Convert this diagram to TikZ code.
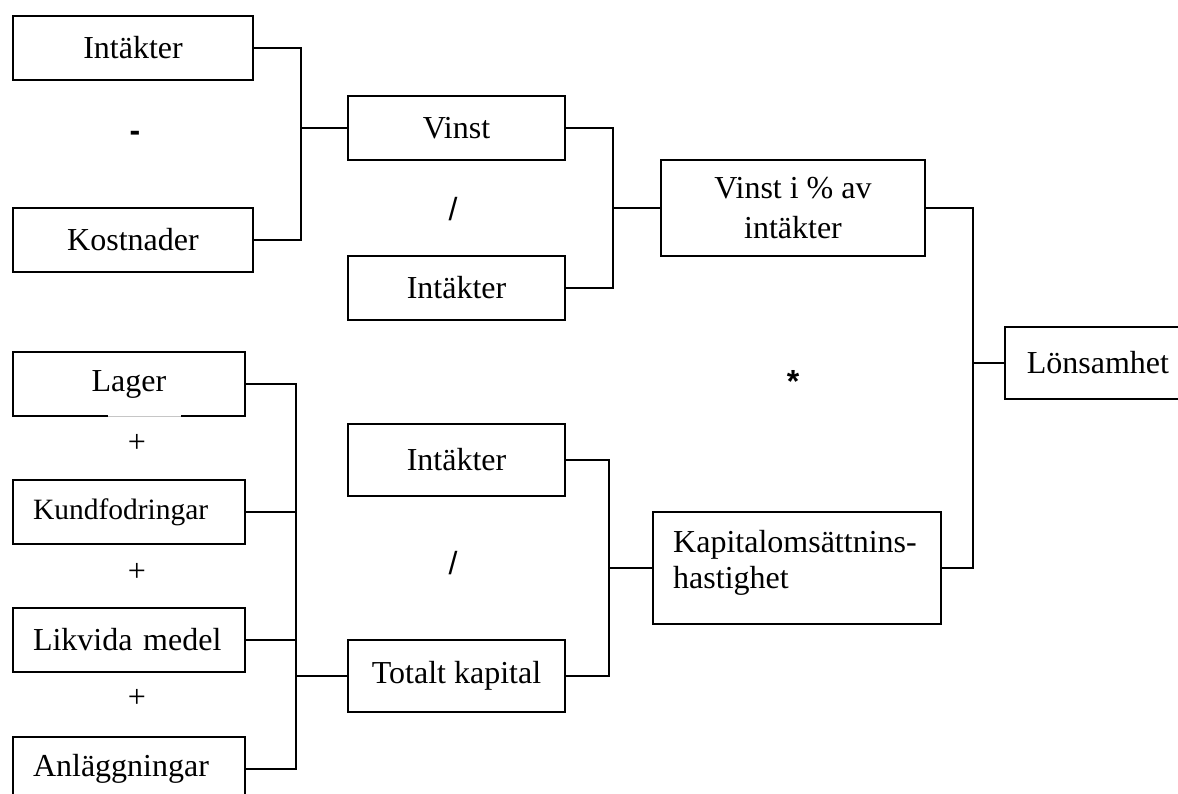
\documentclass[tikz,border=0pt]{standalone}
\usepackage{fontspec}
\setmainfont{Liberation Serif}
\newfontfamily\opfont{Liberation Sans}
\begin{document}
\begin{tikzpicture}[x=1pt,y=-1pt,
  box/.style={draw, line width=1.6pt, inner sep=0pt, minimum height=64pt,
    font=\fontsize{32}{40}\selectfont, align=center},
  lbox/.style={box, inner xsep=20pt, text width=192pt, align=left},
  conn/.style={line width=1.6pt, line join=miter},
  op/.style={inner sep=0pt, font=\fontsize{32}{36}\selectfont},
  sop/.style={inner sep=0pt, font={\opfont\fontsize{32}{36}\selectfont}}]
\clip (0,0) rectangle (1178,794);
\fill[white] (0,0) rectangle (1178,794);

% top left
\node[box, minimum width=240pt] (i1) at (133,48) {Intäkter};
\node[box, minimum width=240pt, minimum height=64pt] (k) at (133,240) {Kostnader};
\node[box, minimum width=217pt] (vinst) at (456.5,128) {Vinst};
\node[box, minimum width=217pt] (i2) at (456.5,288) {Intäkter};
\node[box, minimum width=264pt, minimum height=96pt] (vpct) at (793,208) {Vinst i \% av\\intäkter};
\node[box, anchor=west, inner xsep=22pt, text width=156pt, align=left, minimum height=72pt] (lons) at (1004,363) {Lönsamhet};

% bottom left
\node[box, minimum width=232pt] (lager) at (129,384) {Lager};
\node[lbox, font=\fontsize{29.5}{36}\selectfont] (kund) at (129,512) {Kundfodringar};
\node[lbox] (likv) at (129,640) {Likvida medel};
\node[lbox] (anl) at (129,769) {Anläggningar};
\node[box, minimum width=217pt, minimum height=72pt] (i3) at (456.5,460) {Intäkter};
\node[box, minimum width=217pt, minimum height=72pt] (tot) at (456.5,676) {Totalt kapital};
\node[box, minimum width=288pt, minimum height=112pt] (kap) at (797,568) {};
\node[anchor=north west, inner sep=0pt, align=left, font=\fontsize{32}{36}\selectfont] (kapt) at (673,530) {Kapitalomsättnins-\\hastighet};

% artifact on Lager bottom edge
\draw[white, line width=1.8pt] (108,416) -- (181,416);
\draw[gray!45, line width=0.5pt] (108,416) -- (181,416);

% junctions
\coordinate (j1) at (301,128);
\coordinate (j2) at (613,208);
\coordinate (j3) at (973,363);
\coordinate (j4) at (296,676);
\coordinate (j5) at (609,568);

\draw[conn] (i1.east) -| (j1) |- (k.east);
\draw[conn] (j1) -- (vinst.west);
\draw[conn] (vinst.east) -| (j2) |- (i2.east);
\draw[conn] (j2) -- (vpct.west);
\draw[conn] (vpct.east) -| (j3) |- (kap.east);
\draw[conn] (j3) -- (lons.west);
\draw[conn] (lager.east) -| (j4) |- (anl.east);
\draw[conn] (kund.east) -- (kund.east -| j4);
\draw[conn] (likv.east) -- (likv.east -| j4);
\draw[conn] (j4) -- (tot.west);
\draw[conn] (i3.east) -| (j5) |- (tot.east);
\draw[conn] (j5) -- (kap.west);

% operators
\node[sop, font={\opfont\bfseries\fontsize{32}{36}\selectfont}] (minus) at (135,136) {-};
\node[sop] (div1) at (453,209) {/};
\node[sop] (div2) at (453,563) {/};
\node[sop, font={\opfont\bfseries\fontsize{32}{36}\selectfont}] (mult) at (793,381) {*};
\node[op] (p1) at (137,443) {+};
\node[op] (p2) at (137,572) {+};
\node[op] (p3) at (137,698) {+};
\end{tikzpicture}
\end{document}
